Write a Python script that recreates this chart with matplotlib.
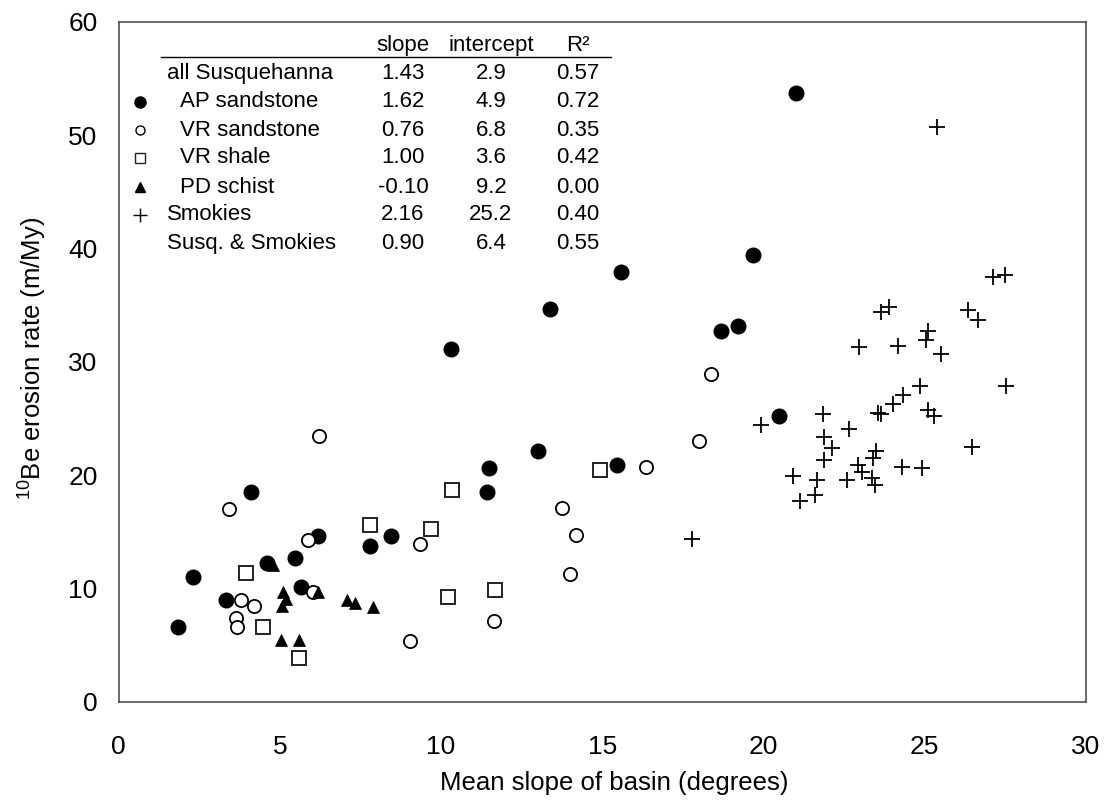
import matplotlib
matplotlib.use("Agg")
import matplotlib.pyplot as plt
from matplotlib.lines import Line2D

plt.rcParams['font.family'] = ['Liberation Sans', 'DejaVu Sans']
plt.rcParams['mathtext.fontset'] = 'custom'
plt.rcParams['mathtext.rm'] = 'Liberation Sans'
plt.rcParams['mathtext.it'] = 'Liberation Sans:italic'
plt.rcParams['mathtext.bf'] = 'Liberation Sans:bold'

# Mean basin slope (degrees) and 10Be erosion rate (m/My) per lithology
ap_sandstone_x = [1.84, 2.31, 3.33, 4.11, 4.60, 5.47, 5.66, 6.19, 7.80, 8.45, 10.31,
                  11.48, 11.42, 13.01, 13.38, 15.45, 15.58, 18.69, 19.20, 19.68, 20.48, 21.01]
ap_sandstone_y = [6.6, 11.0, 9.0, 18.5, 12.3, 12.7, 10.1, 14.6, 13.8, 14.6, 31.1,
                  20.6, 18.5, 22.1, 34.7, 20.9, 37.9, 32.7, 33.2, 39.4, 25.2, 53.7]

vr_sandstone_x = [3.42, 6.21, 5.89, 3.79, 4.19, 3.64, 3.68, 6.03, 9.35, 9.05, 11.63,
                  13.74, 14.19, 13.99, 16.36, 18.00, 18.36]
vr_sandstone_y = [17.0, 23.5, 14.3, 9.0, 8.5, 7.4, 6.6, 9.7, 13.9, 5.4, 7.1,
                  17.1, 14.7, 11.3, 20.7, 23.0, 28.9]

vr_shale_x = [3.95, 4.49, 5.59, 7.81, 9.69, 10.34, 10.23, 11.67, 14.93]
vr_shale_y = [11.4, 6.6, 3.9, 15.6, 15.3, 18.7, 9.3, 9.9, 20.5]

pd_schist_x = [4.79, 5.09, 5.18, 5.08, 5.04, 5.60, 6.19, 7.08, 7.33, 7.88]
pd_schist_y = [12.1, 9.7, 9.1, 8.5, 5.5, 5.5, 9.7, 9.0, 8.7, 8.4]

smokies_x = [17.79, 19.93, 20.90, 21.13, 21.60, 21.66, 21.84, 21.89, 21.87, 22.11,
             22.60, 22.66, 22.93, 23.05, 23.35, 23.45, 23.40, 23.48, 23.54, 23.63,
             22.96, 23.65, 23.90, 24.02, 24.17, 24.30, 24.33, 24.86, 24.91, 25.03,
             25.11, 25.11, 25.30, 25.39, 25.52, 26.33, 26.47, 26.65, 27.12, 27.48, 27.53]
smokies_y = [14.4, 24.4, 19.9, 17.7, 18.3, 19.6, 25.4, 23.4, 21.3, 22.4,
             19.6, 24.1, 20.9, 20.3, 19.8, 19.1, 21.5, 22.1, 25.5, 25.4,
             31.3, 34.4, 34.8, 26.3, 31.4, 20.7, 27.1, 27.9, 20.6, 31.9,
             32.7, 25.75, 25.2, 50.7, 30.7, 34.6, 22.5, 33.7, 37.5, 37.7, 27.9]

# Regression summary table
table_groups = ["all Susquehanna", "AP sandstone", "VR sandstone", "VR shale",
                "PD schist", "Smokies", "Susq. & Smokies"]
table_slope = ["1.43", "1.62", "0.76", "1.00", "-0.10", "2.16", "0.90"]
table_intercept = ["2.9", "4.9", "6.8", "3.6", "9.2", "25.2", "6.4"]
table_r2 = ["0.57", "0.72", "0.35", "0.42", "0.00", "0.40", "0.55"]

x_ticks = [0, 5, 10, 15, 20, 25, 30]
y_ticks = [0, 10, 20, 30, 40, 50, 60]

styles = {
    "AP": dict(marker='o', ms=10.5, mfc='black', mec='black', mew=1.0, ls='none'),
    "VRs": dict(marker='o', ms=9.5, mfc='white', mec='black', mew=1.3, ls='none'),
    "VRsh": dict(marker='s', ms=10, mfc='white', mec='#222222', mew=1.4, ls='none'),
    "PD": dict(marker='^', ms=9, mfc='black', mec='black', mew=0.5, ls='none'),
    "SM": dict(marker='+', ms=11.5, mfc='black', mec='black', mew=1.3, ls='none'),
}

fig = plt.figure(figsize=(11.13, 8.01), dpi=100)
ax = fig.add_axes([0.1065, 0.1236, 0.8692, 0.8493])

ax.plot(ap_sandstone_x, ap_sandstone_y, **styles["AP"], zorder=3)
ax.plot(vr_sandstone_x, vr_sandstone_y, **styles["VRs"], zorder=4)
ax.plot(vr_shale_x, vr_shale_y, **styles["VRsh"], zorder=5)
ax.plot(pd_schist_x, pd_schist_y, **styles["PD"], zorder=6)
ax.plot(smokies_x, smokies_y, **styles["SM"], zorder=7)

ax.set_xlim(0, 30)
ax.set_ylim(0, 60)
ax.set_xticks(x_ticks)
ax.set_yticks(y_ticks)
ax.tick_params(axis='x', length=0, pad=24, labelsize=19)
ax.tick_params(axis='y', length=0, pad=15, labelsize=19)
for sp in ax.spines.values():
    sp.set_color('#444444')
    sp.set_linewidth(1.1)

ax.set_xlabel("Mean slope of basin (degrees)", fontsize=18.5)
ax.xaxis.set_label_coords(0.512, -0.101)
ax.set_ylabel(r"$^{10}$Be erosion rate (m/My)", fontsize=18.5)
ax.yaxis.set_label_coords(-0.072, 0.505)

# Summary table in the upper-left corner
tfs = 16
header_y = 0.9657
ax.text(0.294, header_y, "slope", transform=ax.transAxes, ha='center', va='center', fontsize=tfs)
ax.text(0.385, header_y, "intercept", transform=ax.transAxes, ha='center', va='center', fontsize=tfs)
ax.text(0.475, header_y, "R²", transform=ax.transAxes, ha='center', va='center', fontsize=tfs)
ax.add_line(Line2D([0.0439, 0.509], [0.948, 0.948], transform=ax.transAxes,
                   color='black', lw=1.0))

row_y = [0.9246, 0.882, 0.8408, 0.7997, 0.757, 0.716, 0.6747]
row_keys = [None, "AP", "VRs", "VRsh", "PD", "SM", None]
indented = [False, True, True, True, True, False, False]
legend_ms = {"AP": 8, "VRs": 6.5, "VRsh": 7, "PD": 6.5, "SM": 9.5}
for i, y in enumerate(row_y):
    key = row_keys[i]
    if key is not None:
        st = dict(styles[key])
        st["ms"] = legend_ms[key]
        st["mew"] = 1.0
        ax.add_line(Line2D([0.0222], [y], transform=ax.transAxes, **st))
    lx = 0.0636 if indented[i] else 0.0501
    ax.text(lx, y, table_groups[i], transform=ax.transAxes, ha='left', va='center', fontsize=tfs)
    ax.text(0.294, y, table_slope[i], transform=ax.transAxes, ha='center', va='center', fontsize=tfs)
    ax.text(0.385, y, table_intercept[i], transform=ax.transAxes, ha='center', va='center', fontsize=tfs)
    ax.text(0.475, y, table_r2[i], transform=ax.transAxes, ha='center', va='center', fontsize=tfs)

fig.savefig("out.png", dpi=100, facecolor='white')
